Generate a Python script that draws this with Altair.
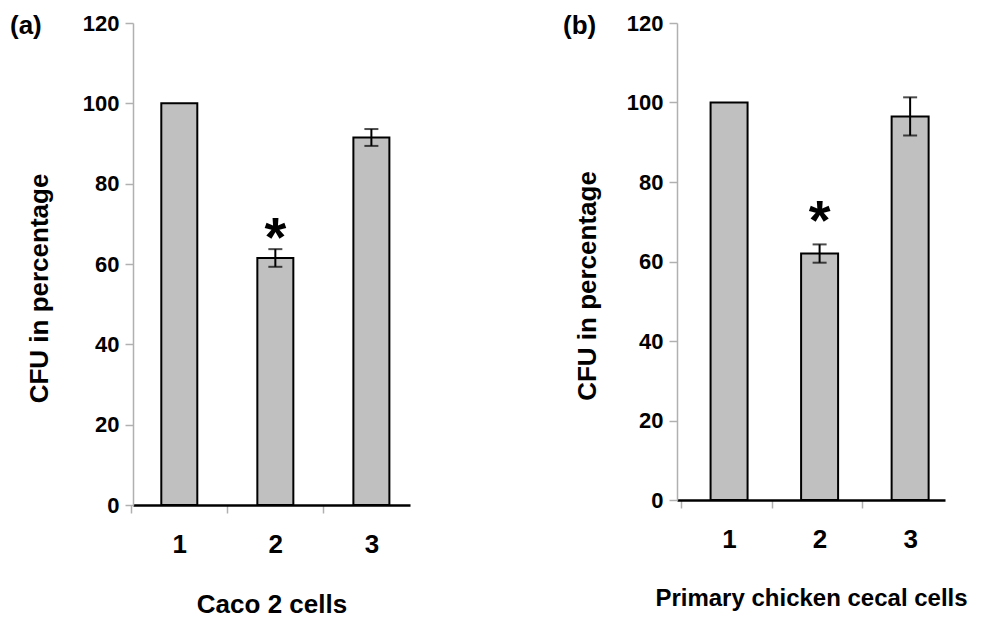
import altair as alt
import pandas as pd

groups = [1, 2, 3]
caco_mean = [100, 61.5, 91.5]
caco_err = [0, 2.2, 2.1]
cecal_mean = [100, 62.0, 96.5]
cecal_err = [0, 2.3, 4.8]
signif = ["", "*", ""]
y_ticks = [0, 20, 40, 60, 80, 100, 120]
panel_tags = ["(a)", "(b)"]
x_titles = ["Caco 2 cells", "Primary chicken cecal cells"]
y_title = "CFU in percentage"

FONT = "Liberation Sans"


def panel(means, errs, xdom, width, height, xtitle, tag, bar_size, xtitle_size,
          star_dy, tag_x, ytitle_pad):
    df = pd.DataFrame({
        "group": groups,
        "mean": means,
        "err": errs,
        "sig": signif,
    })
    df["lo"] = df["mean"] - df["err"]
    df["hi"] = df["mean"] + df["err"]
    base = alt.Chart(df)

    xaxis = alt.Axis(
        values=groups, title=xtitle, grid=False,
        domainColor="black", domainWidth=2.5,
        tickColor="#b0b0b0", tickSize=8, tickWidth=1.5,
        tickOffset=-48, labelOffset=48,
        labelFont=FONT, labelFontWeight="bold", labelFontSize=26,
        labelColor="black", labelPadding=18,
        titleFont=FONT, titleFontWeight="bold", titleFontSize=xtitle_size,
        titleColor="black", titlePadding=34,
    )
    yaxis = alt.Axis(
        values=y_ticks, title=y_title, grid=False,
        domainColor="#b0b0b0", domainWidth=1.5,
        tickColor="#b0b0b0", tickSize=8, tickWidth=1.5,
        labelFont=FONT, labelFontWeight="bold", labelFontSize=22,
        labelColor="black", labelPadding=6,
        titleFont=FONT, titleFontWeight="bold", titleFontSize=26,
        titleColor="black", titlePadding=ytitle_pad, titleY=height / 2 + 24,
    )
    xs = alt.Scale(domain=xdom, nice=False, zero=False)
    ys = alt.Scale(domain=[0, 120], nice=False)

    bars = base.mark_bar(
        size=bar_size, fill="#c0c0c0", stroke="black", strokeWidth=2
    ).encode(
        x=alt.X("group:Q", scale=xs, axis=xaxis),
        y=alt.Y("mean:Q", scale=ys, axis=yaxis),
    )
    stems = base.transform_filter("datum.err > 0").mark_rule(
        color="black", strokeWidth=2
    ).encode(
        x=alt.X("group:Q", scale=xs, axis=xaxis),
        y=alt.Y("lo:Q", scale=ys, axis=yaxis),
        y2="hi:Q",
    )
    caps = base.transform_filter("datum.err > 0").transform_fold(
        ["lo", "hi"], as_=["which", "val"]
    ).mark_tick(
        orient="horizontal", color="black", size=14, thickness=2
    ).encode(
        x=alt.X("group:Q", scale=xs, axis=xaxis),
        y=alt.Y("val:Q", scale=ys, axis=yaxis),
    )
    stars = base.transform_filter("datum.sig != ''").mark_text(
        font=FONT, fontWeight="bold", fontSize=56, color="black",
        baseline="alphabetic", dy=star_dy
    ).encode(
        x=alt.X("group:Q", scale=xs, axis=xaxis),
        y=alt.Y("hi:Q", scale=ys, axis=yaxis),
        text="sig:N",
    )
    tagdf = pd.DataFrame({"tag": [tag]})
    tag_text = alt.Chart(tagdf).mark_text(
        font=FONT, fontWeight="bold", fontSize=26, color="black",
        align="left", baseline="middle"
    ).encode(
        x=alt.value(tag_x), y=alt.value(3), text="tag:N"
    )
    return alt.layer(bars, stems, caps, stars, tag_text).properties(
        width=width, height=height
    )


pa = panel(caco_mean, caco_err, [0.57, 3.35], 277, 482, x_titles[0], panel_tags[0],
           36, 26, 7, -123, 30)
pb = panel(cecal_mean, cecal_err, [0.48, 3.33], 268, 477, x_titles[1], panel_tags[1],
           37, 24, -5, -114, 26)

chart = alt.hconcat(pa, pb, spacing=153).properties(
    padding={"left": 10, "top": 12, "right": 5, "bottom": 5},
    background="white",
).configure_view(stroke=None)

chart.save("out.html", embed_options={"renderer": "svg", "actions": False})
